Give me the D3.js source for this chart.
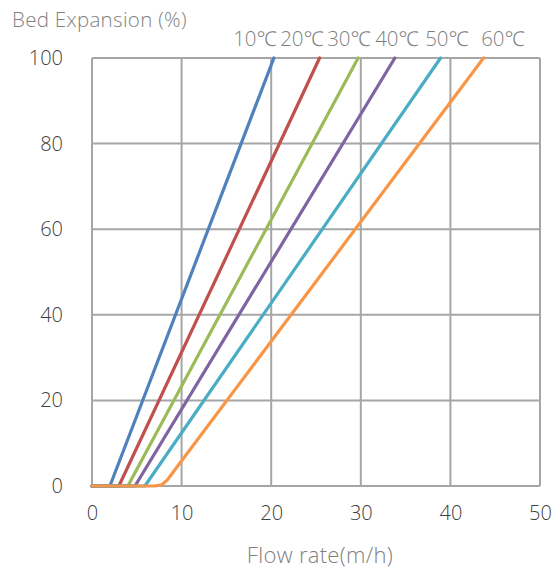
<!DOCTYPE html>
<html>
<head>
<meta charset="utf-8">
<script src="https://cdn.jsdelivr.net/npm/d3@7"></script>
<style>
  body { margin: 0; background: #fff; }
  svg { font-family: "Open Sans", "Noto Sans", sans-serif; font-weight: 300; }
</style>
</head>
<body>
<svg></svg>
<script>
const width = 552;
const height = 574;
const margin = { top: 58, right: 12, bottom: 88, left: 92 };

// series: temperature labels and [flow, expansion] points
const seriesNames = ["10℃", "20℃", "30℃", "40℃", "50℃", "60℃"];
const colors = ["#4f81bd", "#c0504d", "#9bbb59", "#8064a2", "#4bacc6", "#f79646"];
const s10 = [[0, 0], [2.0, 0], [20.3, 100]];
const s20 = [[0, 0], [3.0, 0], [25.4, 100]];
const s30 = [[0, 0], [4.0, 0], [29.7, 100]];
const s40 = [[0, 0], [4.8, 0], [33.8, 100]];
const s50 = [[0, 0], [5.9, 0], [38.9, 100]];
const s60 = [[0, 0], [7.0, 0], [7.8, 0.3], [8.4, 1.4], [43.7, 100]];
const seriesData = [s10, s20, s30, s40, s50, s60];
const xTicks = [0, 10, 20, 30, 40, 50];
const yTicks = [0, 20, 40, 60, 80, 100];

const svg = d3.select("svg")
    .attr("width", width)
    .attr("height", height);

const xScale = d3.scaleLinear()
    .domain([0, 50])
    .range([margin.left, width - margin.right]);

const yScale = d3.scaleLinear()
    .domain([0, 100])
    .range([height - margin.bottom, margin.top]);

// grid
svg.append("g")
    .selectAll("line.vgrid")
    .data(xTicks)
    .enter()
    .append("line")
    .attr("x1", d => xScale(d))
    .attr("x2", d => xScale(d))
    .attr("y1", yScale(0))
    .attr("y2", yScale(100))
    .attr("stroke", "#a6a6a6")
    .attr("stroke-width", 2);

svg.append("g")
    .selectAll("line.hgrid")
    .data(yTicks)
    .enter()
    .append("line")
    .attr("x1", xScale(0))
    .attr("x2", xScale(50))
    .attr("y1", d => yScale(d))
    .attr("y2", d => yScale(d))
    .attr("stroke", "#a6a6a6")
    .attr("stroke-width", 2);

// axes (labels only)
const xAxis = d3.axisBottom(xScale).tickValues(xTicks).tickSize(0).tickPadding(20);
const yAxis = d3.axisLeft(yScale).tickValues(yTicks).tickSize(0).tickPadding(29);

const gx = svg.append("g")
    .attr("transform", `translate(0, ${yScale(0)})`)
    .call(xAxis);
const gy = svg.append("g")
    .attr("transform", `translate(${xScale(0)}, 0)`)
    .call(yAxis);

[gx, gy].forEach(g => {
    g.select(".domain").remove();
    g.selectAll("text")
        .attr("font-family", "\"Open Sans\", \"Noto Sans\", sans-serif")
        .attr("font-weight", 300)
        .attr("font-size", 20)
        .attr("fill", "#404040");
});

// lines
const line = d3.line()
    .x(d => xScale(d[0]))
    .y(d => yScale(d[1]));

svg.append("g")
    .selectAll("path")
    .data(seriesData)
    .enter()
    .append("path")
    .attr("d", line)
    .attr("fill", "none")
    .attr("stroke", (d, i) => colors[i])
    .attr("stroke-width", 3.2)
    .attr("stroke-linejoin", "round")
    .attr("stroke-linecap", "round");

// legend row across the top
const legendX = [255, 302, 349, 397, 447, 503];
svg.append("g")
    .selectAll("text")
    .data(seriesNames)
    .enter()
    .append("text")
    .attr("x", (d, i) => legendX[i])
    .attr("y", 46)
    .attr("text-anchor", "middle")
    .attr("font-size", 20.5)
    .attr("fill", "#7f7f7f")
    .text(d => d);

// axis titles
svg.append("text")
    .attr("x", 12)
    .attr("y", 27)
    .attr("font-size", 20.5)
    .attr("letter-spacing", 0.3)
    .attr("fill", "#7f7f7f")
    .text("Bed Expansion (%)");

svg.append("text")
    .attr("x", 320)
    .attr("y", 563)
    .attr("text-anchor", "middle")
    .attr("font-size", 22)
    .attr("letter-spacing", 0.3)
    .attr("fill", "#7f7f7f")
    .text("Flow rate(m/h)");
</script>
</body>
</html>
